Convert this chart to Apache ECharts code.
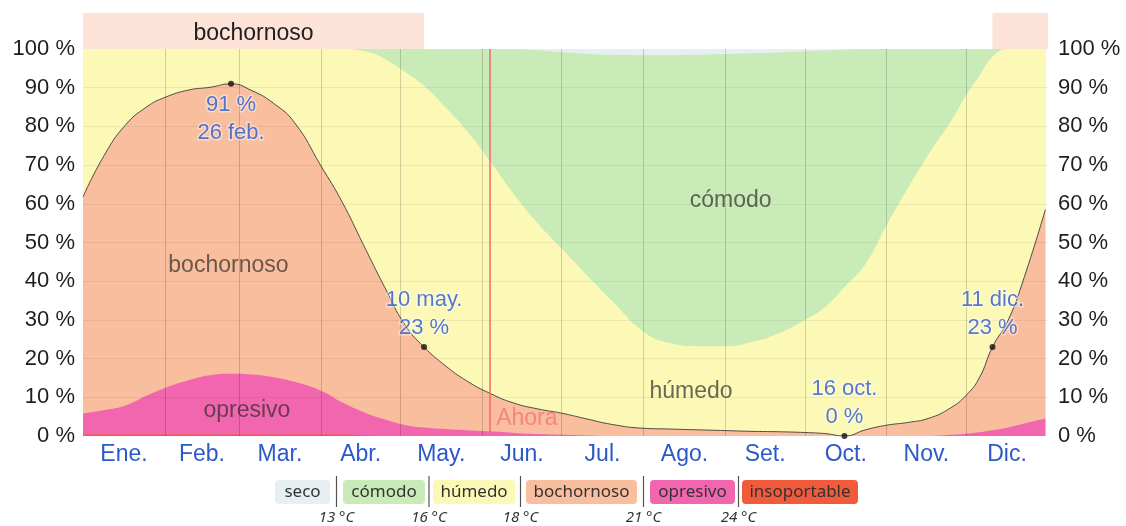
<!DOCTYPE html>
<html>
<head>
<meta charset="utf-8">
<script src="https://cdn.jsdelivr.net/npm/echarts@6/dist/echarts.min.js"></script>
<style>
  html, body { margin: 0; padding: 0; background: #ffffff; }
  #chart { width: 1126px; height: 526px; }
</style>
</head>
<body>
<div id="chart"></div>
<script>
// Day of year for each sample (0 = 1 January)
const days = [0, 8, 16, 24, 31, 40, 48, 56, 64, 72, 80, 90, 98, 106, 114, 122, 129, 137, 145, 154,
  163, 172, 181, 190, 200, 212, 222, 232, 243, 253, 263, 273, 281, 288, 296, 304, 312, 320, 328,
  334, 339, 344, 350, 356, 364];

// % of time that is muggy or worse (black line)
const muggy = [61.8, 72.5, 80.3, 85, 87.5, 89.4, 90.1, 91, 89.2, 86, 81, 69.8, 60.5, 49.5, 38.6, 28.5,
  23, 18.2, 14.3, 11, 8.5, 7, 5.9, 4.5, 3, 2, 1.8, 1.6, 1.4, 1.2, 1.1, 0.9, 0.6, 0, 1.6, 2.8, 3.5,
  4.6, 7.2, 10.5, 15, 23, 30, 41, 58.5];

// % of time oppressive
const opresivo = [5.4, 6.3, 7.5, 10, 12, 14, 15.3, 15.7, 15.5, 14.8, 13.6, 11.3, 8.3, 6, 4.3, 2.8,
  2.2, 1.8, 1.5, 1.2, 0.8, 0.5, 0.3, 0.15, 0, 0, 0, 0, 0, 0, 0, 0, 0, 0, 0, 0, 0, 0, 0.3, 0.6, 1,
  1.5, 2.2, 3.2, 4.5];

// % of time miserable
const insoportable = [0.4, 0.4, 0.4, 0.4, 0.4, 0.4, 0.4, 0.4, 0.4, 0.4, 0.4, 0.4, 0.4, 0.2, 0, 0,
  0, 0, 0, 0, 0, 0, 0, 0, 0, 0, 0, 0, 0, 0, 0, 0, 0, 0, 0, 0, 0, 0, 0, 0, 0, 0, 0, 0, 0];

// Upper edge of the humid band (= lower edge of the comfortable band), cumulative %
const humedoTop = [100, 100, 100, 100, 100, 100, 100, 100, 100, 100, 100, 100, 100, 99.5, 97.5, 94,
  90.5, 85, 79, 71, 62.5, 55, 48.5, 42, 35, 27, 24, 23.2, 23.2, 24.3, 26.5, 30, 33.5, 38.5, 44.5,
  54.5, 64, 73, 81, 88, 93, 98, 100, 100, 100];

// % of time dry
const seco = [0, 0, 0, 0, 0, 0, 0, 0, 0, 0, 0, 0, 0, 0, 0, 0, 0, 0, 0, 0, 0, 0.3, 0.8, 1.2, 1.5,
  1.6, 1.6, 1.5, 1.3, 1.1, 0.9, 0.6, 0.4, 0.2, 0, 0, 0, 0, 0, 0, 0, 0, 0, 0, 0];

// Highlighted dates on the muggy line
const keyDays = [56, 129, 288, 344];
const keyDates = ['26 feb.', '10 may.', '16 oct.', '11 dic.'];

// Muggy season shown in the band above the plot
const seasonName = 'bochornoso';
const season = [[0, 129], [344, 365]];

const todayDay = 154;
const todayLabel = 'Ahora';

const monthNames = ['Ene.', 'Feb.', 'Mar.', 'Abr.', 'May.', 'Jun.', 'Jul.', 'Ago.', 'Set.', 'Oct.', 'Nov.', 'Dic.'];
const monthStarts = [0, 31, 59, 90, 120, 151, 181, 212, 243, 273, 304, 334, 365];
const yTicks = [0, 10, 20, 30, 40, 50, 60, 70, 80, 90, 100];

const bandNames = ['seco', 'cómodo', 'húmedo', 'bochornoso', 'opresivo', 'insoportable'];
const bandThresholds = ['13 °C', '16 °C', '18 °C', '21 °C', '24 °C'];

// In-area band names: [day, %, text]
const areaNames = [[55, 44, 'bochornoso'], [62, 6.5, 'opresivo'], [245, 60.7, 'cómodo'], [230, 11.4, 'húmedo']];

const colors = {
  seco: '#e8eff2',
  comodo: '#c9ebb7',
  humedo: '#fcf8b6',
  bochornoso: '#f9be9d',
  opresivo: '#f266b0',
  insoportable: '#f25a3c'
};

const FONT = "'Liberation Sans', Arial, sans-serif";
const BLUE = '#2c59c9';

const monthMids = monthNames.map((_, i) => (monthStarts[i] + monthStarts[i + 1]) / 2);

// Cumulative upper edge of every band (bands are painted from the top one down)
const topInsoportable = insoportable.slice();
const topOpresivo = opresivo.map((o, i) => o + insoportable[i]);
const topBochornoso = muggy.slice();
const topHumedo = humedoTop.map((t, i) => Math.max(t, muggy[i]));
const topComodo = seco.map(s => 100 - s);
const topSeco = days.map(() => 100);

const pairs = arr => days.map((d, i) => [d, arr[i]]);

function band(name, arr, color, extra) {
  return Object.assign({
    name: name,
    type: 'line',
    data: pairs(arr),
    smooth: 0.5,
    showSymbol: false,
    symbol: 'none',
    silent: true,
    lineStyle: { width: 0, opacity: 0 },
    areaStyle: { color: color, opacity: 1, origin: 'start' },
    z: 2
  }, extra || {});
}

const keyPoints = keyDays.map((d, k) => {
  const idx = days.indexOf(d);
  return { value: [d, muggy[idx]], date: keyDates[k] };
});

// Month-start and percentage grid lines, drawn above the areas
const gridLines = monthStarts.slice(1, -1).map(d => ({ xAxis: d, lineStyle: { color: 'rgba(0,0,0,0.17)' } }))
  .concat(yTicks.slice(1, -1).map(v => ({ yAxis: v, lineStyle: { color: 'rgba(0,0,0,0.06)' } })));

// Legend below the chart
const legendLayout = [[275, 55], [343, 82], [433, 82], [526, 111], [650, 85], [742, 116]];
const legendFill = [colors.seco, colors.comodo, colors.humedo, colors.bochornoso, colors.opresivo, colors.insoportable];
const legendGraphics = [];
bandNames.forEach((n, i) => {
  const [x, w] = legendLayout[i];
  legendGraphics.push({
    type: 'rect', left: x, top: 480, shape: { width: w, height: 24, r: 4 },
    style: { fill: legendFill[i] }, silent: true
  });
  legendGraphics.push({
    type: 'text', x: x + w / 2, y: 492,
    style: { text: n, fill: '#333', font: "17px 'Noto Sans', 'DejaVu Sans', sans-serif", align: 'center', verticalAlign: 'middle' },
    silent: true
  });
  if (i > 0) {
    const sx = (legendLayout[i - 1][0] + legendLayout[i - 1][1] + x) / 2;
    legendGraphics.push({
      type: 'line', shape: { x1: sx, y1: 476, x2: sx, y2: 507 },
      style: { stroke: '#555', lineWidth: 1.2 }, silent: true
    });
    legendGraphics.push({
      type: 'text', x: sx, y: 518,
      style: { text: bandThresholds[i - 1], fill: '#333', font: "italic 15px 'Noto Sans', 'DejaVu Sans', sans-serif", align: 'center', verticalAlign: 'middle' },
      silent: true
    });
  }
});

const yAxisCommon = {
  type: 'value', min: 0, max: 100, interval: 10,
  axisLine: { show: false }, axisTick: { show: false }, splitLine: { show: false },
  axisLabel: { formatter: '{value} %', color: '#1e1e1e', fontSize: 22, fontFamily: FONT }
};

const option = {
  animation: false,
  backgroundColor: '#ffffff',
  grid: [
    { left: 83, right: 78, top: 49, bottom: 90 },
    { left: 83, right: 78, top: 13, height: 36 }
  ],
  xAxis: [
    {
      type: 'value', min: 0, max: 365, gridIndex: 0,
      axisLine: { show: false }, axisTick: { show: false }, splitLine: { show: false },
      axisLabel: {
        customValues: monthMids,
        formatter: v => {
          const i = monthMids.findIndex(m => Math.abs(m - v) < 0.01);
          return i >= 0 ? monthNames[i] : '';
        },
        color: BLUE, fontSize: 23, fontFamily: FONT, margin: 7
      }
    },
    { type: 'value', min: 0, max: 365, gridIndex: 1, show: false }
  ],
  yAxis: [
    Object.assign({}, yAxisCommon, { position: 'left', axisLabel: Object.assign({}, yAxisCommon.axisLabel, { margin: 8 }) }),
    Object.assign({}, yAxisCommon, { position: 'right', axisLabel: Object.assign({}, yAxisCommon.axisLabel, { margin: 10 }) }),
    { type: 'value', min: 0, max: 1, gridIndex: 1, show: false }
  ],
  series: [
    band('seco', topSeco, colors.seco, { smooth: false }),
    band('cómodo', topComodo, colors.comodo),
    band('húmedo', topHumedo, colors.humedo),
    band('bochornoso', topBochornoso, colors.bochornoso, {
      lineStyle: { width: 1, color: '#3d3d3d', opacity: 0.9 }
    }),
    band('opresivo', topOpresivo, colors.opresivo),
    band('insoportable', topInsoportable, colors.insoportable),
    {
      name: 'grid',
      type: 'line',
      data: [],
      silent: true,
      z: 4,
      markLine: {
        silent: true, symbol: 'none', animation: false,
        label: { show: false },
        lineStyle: { type: 'solid', width: 1 },
        data: gridLines
      }
    },
    {
      name: 'today',
      type: 'line',
      data: [],
      silent: true,
      z: 5,
      markLine: {
        silent: true, symbol: 'none', animation: false,
        label: { show: false },
        lineStyle: { type: 'solid', width: 1.5, color: '#f06a6a' },
        data: [{ xAxis: todayDay }]
      }
    },
    {
      name: 'todayLabel',
      type: 'scatter',
      data: [[todayDay, 4.5]],
      symbolSize: 0,
      silent: true,
      z: 6,
      label: {
        show: true, position: 'right', distance: 6, formatter: todayLabel,
        color: '#f27878', fontSize: 23, fontFamily: FONT
      }
    },
    {
      name: 'areaNames',
      type: 'scatter',
      data: areaNames.map(a => ({ value: [a[0], a[1]], name: a[2] })),
      symbolSize: 0,
      silent: true,
      z: 6,
      label: {
        show: true, position: 'inside', formatter: p => p.name,
        color: 'rgba(45,42,40,0.88)', fontSize: 23, fontFamily: FONT
      }
    },
    {
      name: 'keyPoints',
      type: 'scatter',
      data: keyPoints.map(k => {
        const item = { value: k.value, date: k.date };
        // The peak label sits below its point; the others sit above
        if (k.value[1] > 80) {
          item.label = { position: 'bottom', distance: 4, formatter: p => p.value[1] + ' %\n' + p.data.date };
        }
        return item;
      }),
      symbol: 'circle',
      symbolSize: 6,
      itemStyle: { color: '#111' },
      silent: true,
      z: 7,
      label: {
        show: true,
        fontSize: 22, fontFamily: FONT, color: BLUE, lineHeight: 28,
        textBorderColor: 'rgba(255,255,255,0.55)', textBorderWidth: 3,
        position: 'top', distance: 2,
        formatter: p => p.data.date + '\n' + p.value[1] + ' %'
      }
    },
    {
      name: 'season',
      type: 'line',
      xAxisIndex: 1,
      yAxisIndex: 2,
      data: [],
      silent: true,
      markArea: {
        silent: true,
        itemStyle: { color: 'rgba(248,186,160,0.42)' },
        label: { show: true, position: 'inside', offset: [0, 3], color: '#1e1e1e', fontSize: 23, fontFamily: FONT },
        data: season.map((s, i) => [
          { xAxis: s[0], name: i === 0 ? seasonName : '' },
          { xAxis: s[1] }
        ])
      }
    }
  ],
  graphic: legendGraphics
};

const chart = echarts.init(document.getElementById('chart'), null, { renderer: 'canvas' });
chart.setOption(option);
</script>
</body>
</html>
